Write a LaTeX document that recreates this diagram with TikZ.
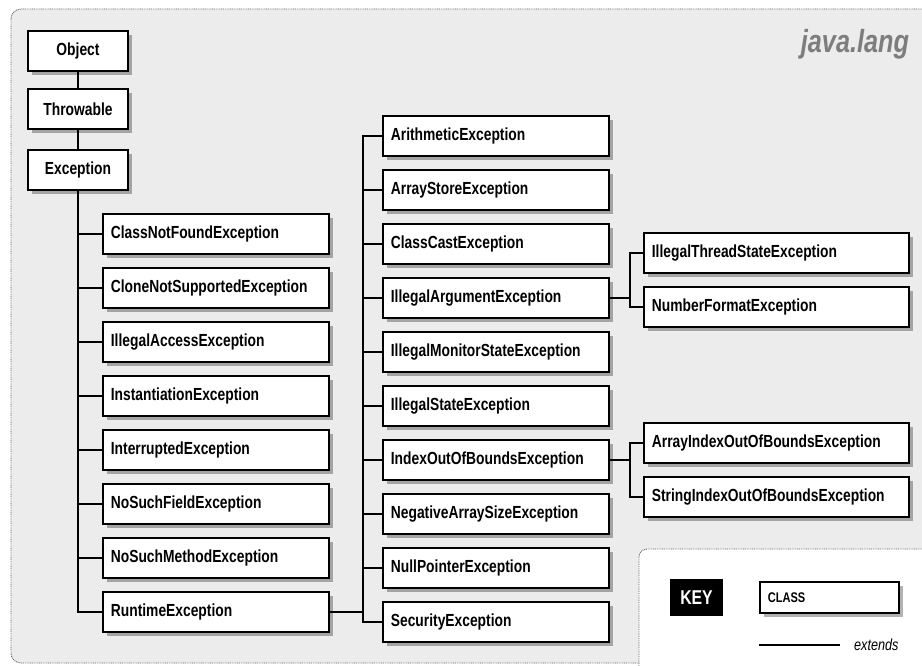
\documentclass[tikz,border=0pt]{standalone}
\usepackage{fontspec}
\setmainfont{Liberation Sans}[FakeStretch=0.79]
\usetikzlibrary{shadows}
\definecolor{bg}{RGB}{236,236,236}
\definecolor{framec}{RGB}{100,100,100}
\definecolor{titlec}{RGB}{125,125,125}
\begin{document}
\begin{tikzpicture}[x=1pt,y=-1pt,
  cls/.style={draw=black, line width=1.8pt, fill=white, text width=#1, align=left,
    inner xsep=8pt, inner ysep=0pt, minimum height=40pt, anchor=west,
    font=\fontsize{17.5}{19}\selectfont\bfseries,
    drop shadow={shadow xshift=4pt, shadow yshift=-4pt, fill=black, opacity=0.3}},
  lcls/.style={cls=210pt},
  rcls/.style={cls=249pt},
  topcls/.style={cls=84pt, align=center, anchor=center},
  conn/.style={line width=1.8pt, black},
  dotframe/.style={draw=framec, line width=0.9pt, dash pattern=on 0.9pt off 0.9pt},
]
\useasboundingbox (0,0) rectangle (922,666);
\begin{scope}
  \clip (0,0) rectangle (922,666);
  \fill[white] (0,0) rectangle (922,666);
  \path[dotframe, fill=bg, rounded corners=10pt] (11,9) rectangle (960,663);
  \path[dotframe, fill=white, rounded corners=8pt] (639,549) rectangle (960,720);
\end{scope}

\node[font=\fontsize{32}{34}\selectfont\bfseries\itshape, text=titlec] (title) at (855,44) {java.lang};

% top chain
\node[topcls] (obj) at (78,51) {Object};
\node[topcls] (thr) at (78,109) {Throwable};
\node[topcls] (exc) at (78,170) {Exception};

% left column
\node[lcls] (cnf)  at (102,234) {ClassNotFoundException};
\node[lcls] (cns)  at (102,288) {CloneNotSupportedException};
\node[lcls] (iae)  at (102,342) {IllegalAccessException};
\node[lcls] (ie)   at (102,396) {InstantiationException};
\node[lcls] (intr) at (102,450) {InterruptedException};
\node[lcls] (nsf)  at (102,504) {NoSuchFieldException};
\node[lcls] (nsm)  at (102,558) {NoSuchMethodException};
\node[lcls] (rt)   at (102,612) {RuntimeException};

% middle column
\node[lcls] (ar)   at (382,136) {ArithmeticException};
\node[lcls] (ase)  at (382,190) {ArrayStoreException};
\node[lcls] (cc)   at (382,244) {ClassCastException};
\node[lcls] (ia)   at (382,298) {IllegalArgumentException};
\node[lcls] (ims)  at (382,352) {IllegalMonitorStateException};
\node[lcls] (ise)  at (382,406) {IllegalStateException};
\node[lcls] (ioob) at (382,460) {IndexOutOfBoundsException};
\node[lcls] (nas)  at (382,514) {NegativeArraySizeException};
\node[lcls] (np)   at (382,568) {NullPointerException};
\node[lcls] (se)   at (382,622) {SecurityException};

% right column
\node[rcls] (its)   at (643,253) {IllegalThreadStateException};
\node[rcls] (nfe)   at (643,307) {NumberFormatException};
\node[rcls] (aioob) at (643,443) {ArrayIndexOutOfBoundsException};
\node[rcls] (sioob) at (643,497) {StringIndexOutOfBoundsException};

% connectors
\draw[conn] (obj) -- (thr);
\draw[conn] (thr) -- (exc);
\draw[conn] (exc.south) -- (exc.south |- rt.west) -- (rt.west);
\foreach \n in {cnf,cns,iae,ie,intr,nsf,nsm}
  \draw[conn] (\n.west) -- (\n.west -| exc.south);

\coordinate (mv) at (363,0);
\draw[conn] (rt.east) -- (rt.east -| mv);
\draw[conn] (ar.west) -- (ar.west -| mv) -- (se.west -| mv) -- (se.west);
\foreach \n in {ase,cc,ia,ims,ise,ioob,nas,np}
  \draw[conn] (\n.west) -- (\n.west -| mv);

\coordinate (rv) at (630,0);
\draw[conn] (ia.east) -- (ia.east -| rv);
\draw[conn] (its.west) -- (its.west -| rv) -- (nfe.west -| rv) -- (nfe.west);
\draw[conn] (ioob.east) -- (ioob.east -| rv);
\draw[conn] (aioob.west) -- (aioob.west -| rv) -- (sioob.west -| rv) -- (sioob.west);

% key
\node[fill=black, text=white, minimum width=53pt, minimum height=37pt, inner sep=0pt,
  font=\fontsize{20}{22}\selectfont\bfseries] (key) at (696.5,597.5) {KEY};
\node[cls=123pt, minimum height=31pt, line width=1.6pt,
  font=\fontsize{14}{16}\selectfont\bfseries] (kcls) at (759,597.5) {CLASS};
\coordinate (e1) at (759,645);
\coordinate (e2) at (840,645);
\draw[line width=1.6pt] (e1) -- (e2);
\node[anchor=west, inner sep=0pt, font=\fontsize{16}{18}\selectfont\itshape] (ext) at (854,645) {extends};
\end{tikzpicture}
\end{document}
